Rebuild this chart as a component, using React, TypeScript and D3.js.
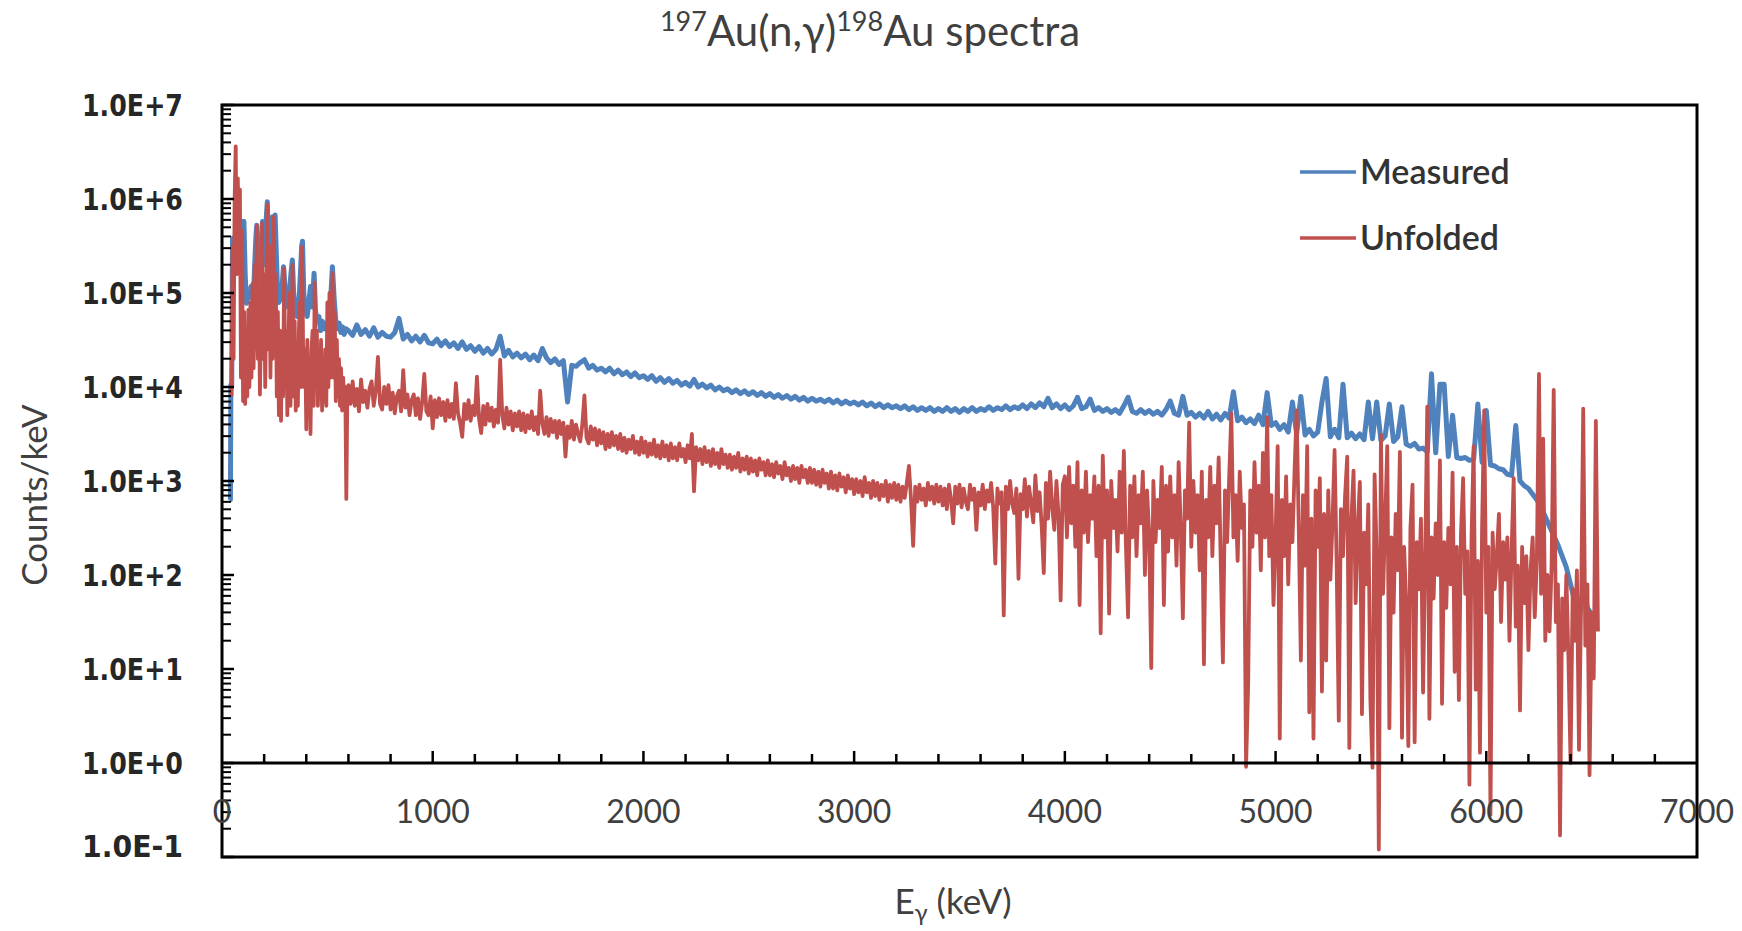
import React, { useMemo } from "react";
import * as d3 from "d3";

// ---- chart data (energies in keV, counts as log10 of counts/keV) ----

const xTickValues = [0, 1000, 2000, 3000, 4000, 5000, 6000, 7000];
const yTickValues = [1e7, 1e6, 1e5, 1e4, 1e3, 1e2, 1e1, 1, 0.1];
const yTickLabels = ["1.0E+7", "1.0E+6", "1.0E+5", "1.0E+4", "1.0E+3", "1.0E+2", "1.0E+1", "1.0E+0", "1.0E-1"];

const seriesNames = ["Measured", "Unfolded"];
const seriesColors = ["#4F81BD", "#C0504D"];

// measured, low-energy part read point by point
const measuredLow: [number, number][] = [
  [35, 2.8], [40, 2.8], [42, 4.02], [46, 4.0], [50, 5.58], [56, 5.5], [62, 5.6], [70, 5.7], [80, 5.75],
  [92, 5.76], [104, 5.76], [110, 5.2], [116, 4.89], [122, 4.95], [130, 4.95], [138, 5.07], [144, 4.95],
  [150, 5.0], [156, 5.35], [161, 5.6], [165, 5.72], [170, 5.3], [176, 5.0], [182, 5.1], [188, 5.5],
  [192, 5.76], [198, 5.3], [204, 5.4], [210, 5.8], [215, 5.97], [221, 5.5], [228, 5.2], [234, 5.4],
  [240, 5.81], [246, 5.7], [252, 5.83], [258, 5.4], [264, 5.0], [270, 4.9], [278, 4.95], [286, 5.1],
  [292, 5.28], [298, 5.1], [304, 4.85], [312, 4.9], [320, 5.0], [327, 5.2], [334, 5.35], [340, 5.0],
  [348, 4.8], [356, 4.75], [364, 4.85], [372, 5.2], [378, 5.5], [382, 5.55], [388, 5.0], [396, 4.8],
  [404, 4.75], [412, 4.9], [420, 5.07], [428, 4.85], [437, 5.21], [444, 4.8], [452, 4.7], [460, 4.75],
  [468, 4.6], [476, 4.7], [484, 4.62], [492, 4.68], [500, 4.6], [508, 4.75], [516, 4.95], [524, 5.28],
  [532, 4.95], [540, 4.7], [548, 4.62], [556, 4.68], [564, 4.58], [572, 4.64], [580, 4.56], [588, 4.62],
];

// measured, 600 keV onwards, one value every 20 keV
const measuredGridStart = 600;
const measuredGridStep = 20;
const measuredGrid = [
  4.60, 4.55, 4.66, 4.56, 4.61, 4.54, 4.63, 4.53, 4.58, 4.54, // 600
  4.53, 4.58, 4.73, 4.51, 4.56, 4.49, 4.54, 4.48, 4.55, 4.47, // 800
  4.46, 4.51, 4.44, 4.49, 4.43, 4.47, 4.41, 4.48, 4.40, 4.44, // 1000
  4.38, 4.43, 4.36, 4.41, 4.35, 4.40, 4.54, 4.33, 4.39, 4.32, // 1200
  4.36, 4.31, 4.35, 4.29, 4.34, 4.28, 4.41, 4.31, 4.26, 4.30, // 1400
  4.24, 4.28, 3.84, 4.23, 4.22, 4.26, 4.29, 4.20, 4.23, 4.18, // 1600
  4.20, 4.16, 4.20, 4.14, 4.18, 4.13, 4.16, 4.11, 4.15, 4.10, // 1800
  4.12, 4.08, 4.12, 4.06, 4.10, 4.05, 4.09, 4.04, 4.07, 4.02, // 2000
  4.05, 4.01, 4.08, 4.00, 4.03, 3.99, 4.02, 3.97, 4.00, 3.96, // 2200
  3.98, 3.94, 3.97, 3.93, 3.96, 3.92, 3.95, 3.91, 3.94, 3.90, // 2400
  3.93, 3.89, 3.92, 3.88, 3.91, 3.87, 3.90, 3.86, 3.89, 3.85, // 2600
  3.88, 3.85, 3.87, 3.84, 3.87, 3.83, 3.86, 3.82, 3.85, 3.82, // 2800
  3.84, 3.81, 3.84, 3.80, 3.83, 3.79, 3.82, 3.78, 3.81, 3.78, // 3000
  3.80, 3.77, 3.80, 3.76, 3.79, 3.75, 3.78, 3.75, 3.78, 3.74, // 3200
  3.77, 3.74, 3.78, 3.74, 3.77, 3.73, 3.77, 3.74, 3.78, 3.74, // 3400
  3.77, 3.75, 3.79, 3.75, 3.78, 3.76, 3.80, 3.76, 3.79, 3.77, // 3600
  3.81, 3.77, 3.82, 3.78, 3.83, 3.79, 3.88, 3.78, 3.82, 3.77, // 3800
  3.81, 3.76, 3.80, 3.89, 3.77, 3.79, 3.87, 3.75, 3.78, 3.74, // 4000
  3.77, 3.73, 3.76, 3.72, 3.80, 3.89, 3.74, 3.72, 3.76, 3.72, // 4200
  3.75, 3.71, 3.74, 3.70, 3.76, 3.85, 3.72, 3.70, 3.90, 3.70, // 4400
  3.73, 3.68, 3.72, 3.67, 3.74, 3.66, 3.71, 3.65, 3.72, 3.67, // 4600
  3.95, 3.64, 3.68, 3.62, 3.66, 3.61, 3.70, 3.60, 3.94, 3.59, // 4800
  3.62, 3.55, 3.60, 3.52, 3.84, 3.50, 3.90, 3.49, 3.55, 3.48, // 5000
  3.52, 3.84, 4.09, 3.47, 3.55, 3.46, 4.03, 3.46, 3.51, 3.45, // 5200
  3.50, 3.44, 3.84, 3.45, 3.84, 3.43, 3.48, 3.82, 3.42, 3.47, // 5400
  3.79, 3.39, 3.37, 3.40, 3.34, 3.35, 3.31, 4.14, 3.30, 4.03, // 5600
  4.03, 3.26, 3.70, 3.25, 3.24, 3.25, 3.22, 3.23, 3.82, 3.20, // 5800
  3.75, 3.17, 3.16, 3.13, 3.12, 3.07, 3.06, 3.59, 3.00, 2.95, // 6000
  2.92, 2.86, 2.80, 2.72, 2.62, 2.52, 2.42, 2.32, 2.20, 2.08, // 6200
  1.90, 1.72, 1.52, 1.88, 1.65, 1.58,                         // 6400
];

// unfolded, 45 - 595 keV, one value every 5 keV
const unfoldedLowStart = 45;
const unfoldedLowStep = 5;
const unfoldedLow = [
  3.90, 5.50, 4.30, 6.00, 6.56, 5.20, 6.22, 5.40, 6.10, 4.10, // 45
  5.66, 3.85, 4.80, 3.82, 4.60, 3.90, 4.82, 4.00, 4.90, 4.10, // 95
  5.10, 4.20, 5.30, 4.40, 5.72, 4.30, 5.00, 3.92, 4.70, 5.74, // 145
  4.30, 5.20, 4.00, 4.90, 5.94, 4.40, 5.50, 4.10, 5.26, 4.30, // 195
  5.81, 4.60, 5.20, 3.90, 4.80, 3.70, 4.60, 3.64, 4.50, 3.90, // 245
  5.26, 4.20, 4.60, 3.70, 4.40, 5.00, 3.80, 4.50, 5.30, 3.90, // 295
  4.70, 3.75, 4.40, 3.80, 4.60, 4.90, 4.00, 5.49, 4.40, 4.00, // 345
  4.40, 3.55, 4.50, 3.85, 4.30, 3.50, 4.40, 4.60, 3.80, 5.11, // 395
  4.20, 4.60, 3.80, 4.30, 3.90, 4.50, 3.75, 4.20, 3.85, 4.40, // 445
  3.80, 4.90, 4.00, 5.00, 4.10, 4.60, 5.21, 4.10, 4.80, 3.85, // 495
  4.50, 3.90, 4.30, 3.80, 4.20, 3.75, 4.10, 3.85, 4.00, 2.81, // 545
  3.95,                                                       // 595
];

// unfolded, 600 - 3990 keV, one value every 10 keV
const unfoldedMidStart = 600;
const unfoldedMidStep = 10;
const unfoldedMid = [
  4.02, 3.82, 4.06, 3.80, 3.98, 3.74, 4.08, 3.84, 3.96, 3.78, // 600
  3.98, 4.06, 3.80, 3.96, 4.32, 3.82, 3.76, 4.00, 3.82, 4.02, // 700
  3.76, 3.94, 3.72, 3.90, 3.96, 3.74, 4.18, 3.78, 3.92, 3.70, // 800
  3.86, 3.92, 3.70, 3.88, 3.66, 3.84, 4.14, 3.74, 3.70, 3.90, // 900
  3.56, 3.86, 3.68, 3.88, 3.70, 3.84, 3.64, 3.86, 3.68, 3.82, // 1000
  3.66, 4.04, 3.72, 3.62, 3.47, 3.82, 3.66, 3.86, 3.64, 3.80, // 1100
  3.70, 4.11, 3.66, 3.51, 3.80, 3.60, 3.82, 3.64, 3.78, 3.58, // 1200
  3.76, 3.62, 4.29, 3.70, 3.56, 3.78, 3.60, 3.74, 3.54, 3.72, // 1300
  3.58, 3.74, 3.54, 3.72, 3.52, 3.70, 3.56, 3.74, 3.54, 3.68, // 1400
  3.50, 3.96, 3.62, 3.50, 3.68, 3.48, 3.66, 3.52, 3.64, 3.46, // 1500
  3.64, 3.50, 3.62, 3.26, 3.58, 3.46, 3.64, 3.44, 3.60, 3.50, // 1600
  3.42, 3.60, 3.91, 3.46, 3.40, 3.58, 3.44, 3.56, 3.38, 3.54, // 1700
  3.40, 3.52, 3.34, 3.50, 3.36, 3.52, 3.38, 3.48, 3.34, 3.50, // 1800
  3.32, 3.46, 3.30, 3.44, 3.34, 3.48, 3.30, 3.42, 3.28, 3.46, // 1900
  3.30, 3.42, 3.26, 3.40, 3.28, 3.44, 3.26, 3.38, 3.24, 3.42, // 2000
  3.26, 3.38, 3.22, 3.40, 3.24, 3.36, 3.22, 3.40, 3.26, 3.34, // 2100
  3.20, 3.38, 3.24, 3.50, 2.89, 3.36, 3.22, 3.34, 3.18, 3.36, // 2200
  3.20, 3.32, 3.16, 3.34, 3.18, 3.30, 3.14, 3.34, 3.18, 3.28, // 2300
  3.14, 3.28, 3.12, 3.26, 3.14, 3.30, 3.10, 3.24, 3.12, 3.26, // 2400
  3.08, 3.24, 3.10, 3.22, 3.06, 3.24, 3.12, 3.20, 3.06, 3.22, // 2500
  3.06, 3.18, 3.04, 3.20, 3.08, 3.16, 3.02, 3.20, 3.06, 3.14, // 2600
  3.00, 3.16, 3.02, 3.14, 2.98, 3.16, 3.04, 3.12, 2.98, 3.14, // 2700
  2.98, 3.12, 2.96, 3.10, 2.94, 3.12, 2.98, 3.08, 2.92, 3.10, // 2800
  2.92, 3.06, 2.90, 3.08, 2.94, 3.04, 2.88, 3.06, 2.92, 3.02, // 2900
  2.86, 3.02, 2.88, 3.00, 2.84, 3.04, 2.88, 2.98, 2.82, 3.00, // 3000
  2.84, 2.98, 2.80, 2.96, 2.84, 3.00, 2.78, 2.96, 2.82, 2.98, // 3100
  2.80, 2.96, 2.78, 2.94, 2.82, 2.98, 3.16, 2.80, 2.31, 2.94, // 3200
  2.78, 2.96, 2.80, 2.92, 2.74, 2.98, 2.80, 2.94, 2.76, 2.96, // 3300
  2.78, 2.94, 2.74, 2.92, 2.70, 2.96, 2.80, 2.55, 2.94, 2.76, // 3400
  2.96, 2.72, 2.92, 2.78, 2.70, 2.96, 2.80, 2.92, 2.48, 2.88, // 3500
  2.74, 2.96, 2.70, 2.90, 2.78, 2.98, 2.72, 2.12, 2.92, 2.76, // 3600
  2.88, 1.57, 2.94, 2.70, 3.00, 2.76, 2.66, 2.92, 1.96, 2.86, // 3700
  2.70, 3.02, 2.62, 2.94, 2.76, 2.56, 3.06, 2.68, 2.88, 2.52, // 3800
  2.02, 2.98, 2.60, 3.10, 2.72, 2.48, 3.00, 2.64, 1.73, 2.96, // 3900
];

// unfolded, 4000 keV onwards, one value every 10 keV
const unfoldedHighStart = 4000;
const unfoldedHighStep = 10;
const unfoldedHigh = [
  3.05, 2.40, 3.15, 2.55, 2.95, 2.30, 3.20, 1.68, 2.90, 2.45, // 4000
  3.10, 2.35, 2.85, 2.60, 3.05, 2.20, 2.95, 1.38, 3.27, 2.40, // 4100
  2.90, 1.59, 3.00, 2.50, 2.80, 2.25, 3.10, 2.45, 3.32, 2.30, // 4200
  1.55, 2.95, 2.40, 3.05, 2.20, 2.85, 2.55, 3.10, 2.00, 2.90, // 4300
  2.45, 1.01, 3.00, 2.35, 2.80, 2.50, 3.15, 1.68, 2.95, 2.25, // 4400
  3.05, 2.40, 2.85, 2.10, 3.20, 2.50, 1.54, 2.90, 2.60, 3.62, // 4500
  2.30, 3.00, 2.45, 2.85, 2.05, 3.10, 1.05, 2.80, 2.40, 3.15, // 4600
  2.20, 2.95, 2.55, 3.25, 2.10, 1.07, 2.90, 2.35, 3.05, 3.72, // 4700
  2.40, 2.85, 2.15, 3.10, 2.50, 2.75, -0.04, 0.85, 2.90, 2.30, // 4800
  3.20, 2.45, 2.95, 2.05, 3.30, 2.40, 3.68, 2.20, 2.85, 1.68, // 4900
  2.40, 3.37, 0.26, 2.80, 2.20, 3.05, 1.90, 2.75, 2.35, 3.10, // 5000
  3.75, 2.50, 1.09, 2.85, 2.10, 3.37, 0.54, 2.60, 0.26, 2.90, // 5100
  2.30, 3.03, 0.76, 2.65, 1.09, 2.90, 1.95, 2.55, 3.33, 2.10, // 5200
  0.45, 2.70, 2.20, 2.85, 3.26, 0.16, 2.60, 3.11, 1.70, 2.50, // 5300
  2.99, 0.52, 2.45, 1.90, 2.75, 0.67, -0.05, 3.07, 2.20, -0.92, // 5400
  3.49, 1.80, 2.55, 3.37, 0.37, 2.40, 1.60, 2.65, 2.05, 3.31, // 5500
  0.27, 2.30, 1.70, 0.18, 2.50, 2.96, 0.22, 2.35, 1.85, 2.60, // 5600
  0.75, 2.20, 3.79, 0.47, 2.40, 1.75, 2.55, 2.00, 3.22, 0.63, // 5700
  2.35, 1.65, 2.50, 1.90, 3.09, 0.97, 2.30, 0.67, 2.45, 3.03, // 5800
  1.80, 2.25, -0.23, 2.40, 3.37, 0.78, 2.15, 0.11, 2.50, 3.75, // 5900
  1.60, 2.30, -0.55, 2.45, 1.85, 2.20, 2.65, 1.50, 2.35, 1.95, // 6000
  2.40, 1.30, 2.25, 3.03, 1.45, 2.10, 0.56, 2.30, 1.70, 2.20, // 6100
  1.20, 2.05, 2.40, 1.55, 2.15, 4.14, 1.80, 3.45, 1.30, 2.00, // 6200
  1.40, 2.10, 3.97, 1.50, 1.90, -0.77, 1.75, 1.20, 2.00, 1.10, // 6300
  0.00, 1.85, 1.30, 2.05, 0.14, 1.70, 3.77, 1.25, 1.90, -0.13, // 6400
  1.60, 0.90, 3.64, 1.40,                                     // 6500
];

// ---- layout ----
const W = 1742;
const H = 931;
const plot = { left: 222, right: 1697, top: 105, bottom: 857 };
const axisColor = "#000";
const uiFont = "Lato, 'Noto Sans', 'DejaVu Sans', sans-serif";

const onGrid = (start: number, step: number, logs: number[]): [number, number][] =>
  logs.map((v, i) => [start + i * step, v]);

export default function App() {
  const xScale = d3.scaleLinear().domain([0, 7000]).range([plot.left, plot.right]);
  const yScale = d3.scaleLog().domain([0.1, 1e7]).range([plot.bottom, plot.top]);

  const paths = useMemo(() => {
    const line = d3
      .line<[number, number]>()
      .x((d) => xScale(d[0]))
      .y((d) => yScale(Math.pow(10, d[1])));
    const measured = [...measuredLow, ...onGrid(measuredGridStart, measuredGridStep, measuredGrid)];
    const unfolded = [
      ...onGrid(unfoldedLowStart, unfoldedLowStep, unfoldedLow),
      ...onGrid(unfoldedMidStart, unfoldedMidStep, unfoldedMid),
      ...onGrid(unfoldedHighStart, unfoldedHighStep, unfoldedHigh),
    ];
    return [line(measured) || "", line(unfolded) || ""];
  }, []);

  // minor ticks
  const yMinor: number[] = [];
  for (let e = -1; e < 7; e++) {
    for (let k = 2; k <= 9; k++) yMinor.push(k * Math.pow(10, e));
  }
  const xMinor = d3.range(200, 7000, 200).filter((v) => v % 1000 !== 0);
  const xAxisY = yScale(1);

  return (
    <svg
      width={W}
      height={H}
      style={{ position: "absolute", left: 0, top: 0, display: "block", background: "#fff" }}
    >
      <rect x={0} y={0} width={W} height={H} fill="#fff" />

      {/* title */}
      <text x={870} y={46} textAnchor="middle" fontFamily={uiFont} fontSize={42} fill="#404040">
        <tspan fontSize={27} dy={-15}>197</tspan>
        <tspan dy={15}>Au(n,γ)</tspan>
        <tspan fontSize={27} dy={-15}>198</tspan>
        <tspan dy={15}>Au spectra</tspan>
      </text>

      {/* series */}
      <path d={paths[0]} fill="none" stroke={seriesColors[0]} strokeWidth={5} strokeLinejoin="round" />
      <path d={paths[1]} fill="none" stroke={seriesColors[1]} strokeWidth={3.8} strokeLinejoin="round" />

      {/* frame */}
      <rect
        x={plot.left}
        y={plot.top}
        width={plot.right - plot.left}
        height={plot.bottom - plot.top}
        fill="none"
        stroke={axisColor}
        strokeWidth={3}
      />

      {/* y ticks */}
      {yTickValues.map((v) => (
        <line key={"ym" + v} x1={plot.left} x2={plot.left + 12} y1={yScale(v)} y2={yScale(v)} stroke={axisColor} strokeWidth={2.5} />
      ))}
      {yMinor.map((v) => (
        <line key={"yn" + v} x1={plot.left} x2={plot.left + 9} y1={yScale(v)} y2={yScale(v)} stroke={axisColor} strokeWidth={2} />
      ))}
      {yTickValues.map((v, i) => (
        <text
          key={"yl" + v}
          x={183}
          y={Math.min(yScale(v) + 11, plot.bottom)}
          textAnchor="end"
          fontFamily="'DejaVu Sans', sans-serif"
          fontWeight="bold"
          fontSize={30}
          textLength={101}
          lengthAdjust="spacingAndGlyphs"
          fill="#262626"
        >
          {yTickLabels[i]}
        </text>
      ))}

      {/* x axis crossing at 1 */}
      <line x1={plot.left} x2={plot.right} y1={xAxisY} y2={xAxisY} stroke={axisColor} strokeWidth={3} />
      {xTickValues.slice(1, -1).map((v) => (
        <line key={"xm" + v} x1={xScale(v)} x2={xScale(v)} y1={xAxisY} y2={xAxisY - 12} stroke={axisColor} strokeWidth={2.5} />
      ))}
      {xMinor.map((v) => (
        <line key={"xn" + v} x1={xScale(v)} x2={xScale(v)} y1={xAxisY} y2={xAxisY - 9} stroke={axisColor} strokeWidth={2.5} />
      ))}
      {xTickValues.map((v) => (
        <text key={"xl" + v} x={xScale(v)} y={823} textAnchor="middle" fontFamily={uiFont} fontSize={32} fill="#404040">
          {v}
        </text>
      ))}

      {/* axis titles */}
      <text x={953} y={914} textAnchor="middle" fontFamily={uiFont} fontSize={35} fill="#404040">
        E<tspan fontSize={24} dy={7}>γ</tspan>
        <tspan dy={-7}> (keV)</tspan>
      </text>
      <text
        transform="translate(47,495) rotate(-90)"
        textAnchor="middle"
        fontFamily={uiFont}
        fontSize={35}
        fill="#404040"
      >
        Counts/keV
      </text>

      {/* legend */}
      {seriesNames.map((name, i) => (
        <g key={name} transform={`translate(1300,${172 + i * 66})`}>
          <line x1={0} x2={56} y1={0} y2={0} stroke={seriesColors[i]} strokeWidth={3.5} />
          <text x={60} y={12} fontFamily={uiFont} fontSize={34} fontWeight={600} fill="#333">
            {name}
          </text>
        </g>
      ))}
    </svg>
  );
}
